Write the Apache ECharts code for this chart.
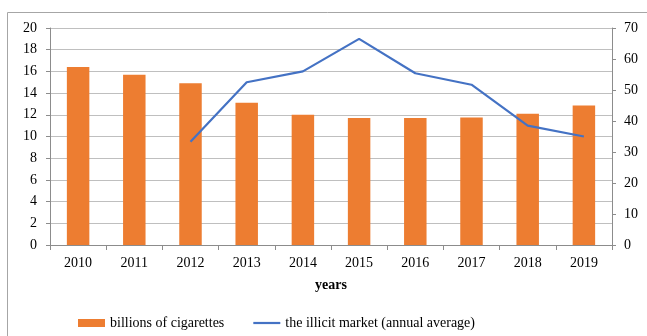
<!DOCTYPE html>
<html><head><meta charset="utf-8">
<script src="https://cdn.jsdelivr.net/npm/echarts@6/dist/echarts.min.js"></script>
<style>html,body{margin:0;padding:0;background:#fff}#c{width:647px;height:336px}</style>
</head><body><div id="c"></div>
<script>
const years = ['2010','2011','2012','2013','2014','2015','2016','2017','2018','2019'];
const cigarettes = [16.4, 15.7, 14.9, 13.1, 12.0, 11.7, 11.7, 11.75, 12.1, 12.85];
const illicit = [null, null, 33.3, 52.5, 56.0, 66.5, 55.4, 51.7, 38.5, 35.0];
const leftTicks = {min:0, max:20, interval:2};
const rightTicks = {min:0, max:70, interval:10};
const font = '"Liberation Serif", "Times New Roman", serif';
const chart = echarts.init(document.getElementById('c'), null, {renderer:'canvas'});
chart.setOption({
  animation:false,
  graphic:[{type:'rect', shape:{x:7.5,y:12.5,width:700,height:400}, style:{fill:'none', stroke:'#a6a6a6', lineWidth:1}, z:-1}],
  grid:{left:50, right:35, top:28, bottom:91},
  legend:{
    top:311, left:73, itemGap:29, itemWidth:27, itemHeight:8,
    textStyle:{fontFamily:font, fontSize:14, color:'#000'},
    data:[{name:'billions of cigarettes', icon:'rect'},
          {name:'the illicit market (annual average)', icon:'path://M0,0H27V2.2H0Z', itemStyle:{color:'#4472C4'}}]
  },
  xAxis:{
    type:'category', data:years, name:'years', nameLocation:'middle', nameGap:33,
    nameTextStyle:{fontFamily:font, fontSize:14, fontWeight:'bold', color:'#000'},
    axisLine:{lineStyle:{color:'#8c8c8c'}},
    axisTick:{show:true, length:5, lineStyle:{color:'#8c8c8c'}},
    axisLabel:{fontFamily:font, fontSize:14, color:'#000', margin:11}
  },
  yAxis:[{
    type:'value', min:leftTicks.min, max:leftTicks.max, interval:leftTicks.interval,
    axisLine:{show:true, lineStyle:{color:'#8c8c8c'}},
    axisTick:{show:true, length:4, lineStyle:{color:'#8c8c8c'}},
    splitLine:{lineStyle:{color:'#bfbfbf'}},
    axisLabel:{fontFamily:font, fontSize:14, color:'#000', margin:13}
  },{
    type:'value', min:rightTicks.min, max:rightTicks.max, interval:rightTicks.interval,
    axisLine:{show:true, lineStyle:{color:'#8c8c8c'}},
    axisTick:{show:true, length:4, lineStyle:{color:'#8c8c8c'}},
    splitLine:{show:false},
    axisLabel:{fontFamily:font, fontSize:14, color:'#000', margin:12}
  }],
  series:[{
    name:'billions of cigarettes', type:'bar', data:cigarettes, barWidth:'40%',
    itemStyle:{color:'#ED7D31'}
  },{
    name:'the illicit market (annual average)', type:'line', yAxisIndex:1, data:illicit,
    symbol:'none', lineStyle:{color:'#4472C4', width:2.2}, itemStyle:{color:'#4472C4'}
  }]
});
</script></body></html>
